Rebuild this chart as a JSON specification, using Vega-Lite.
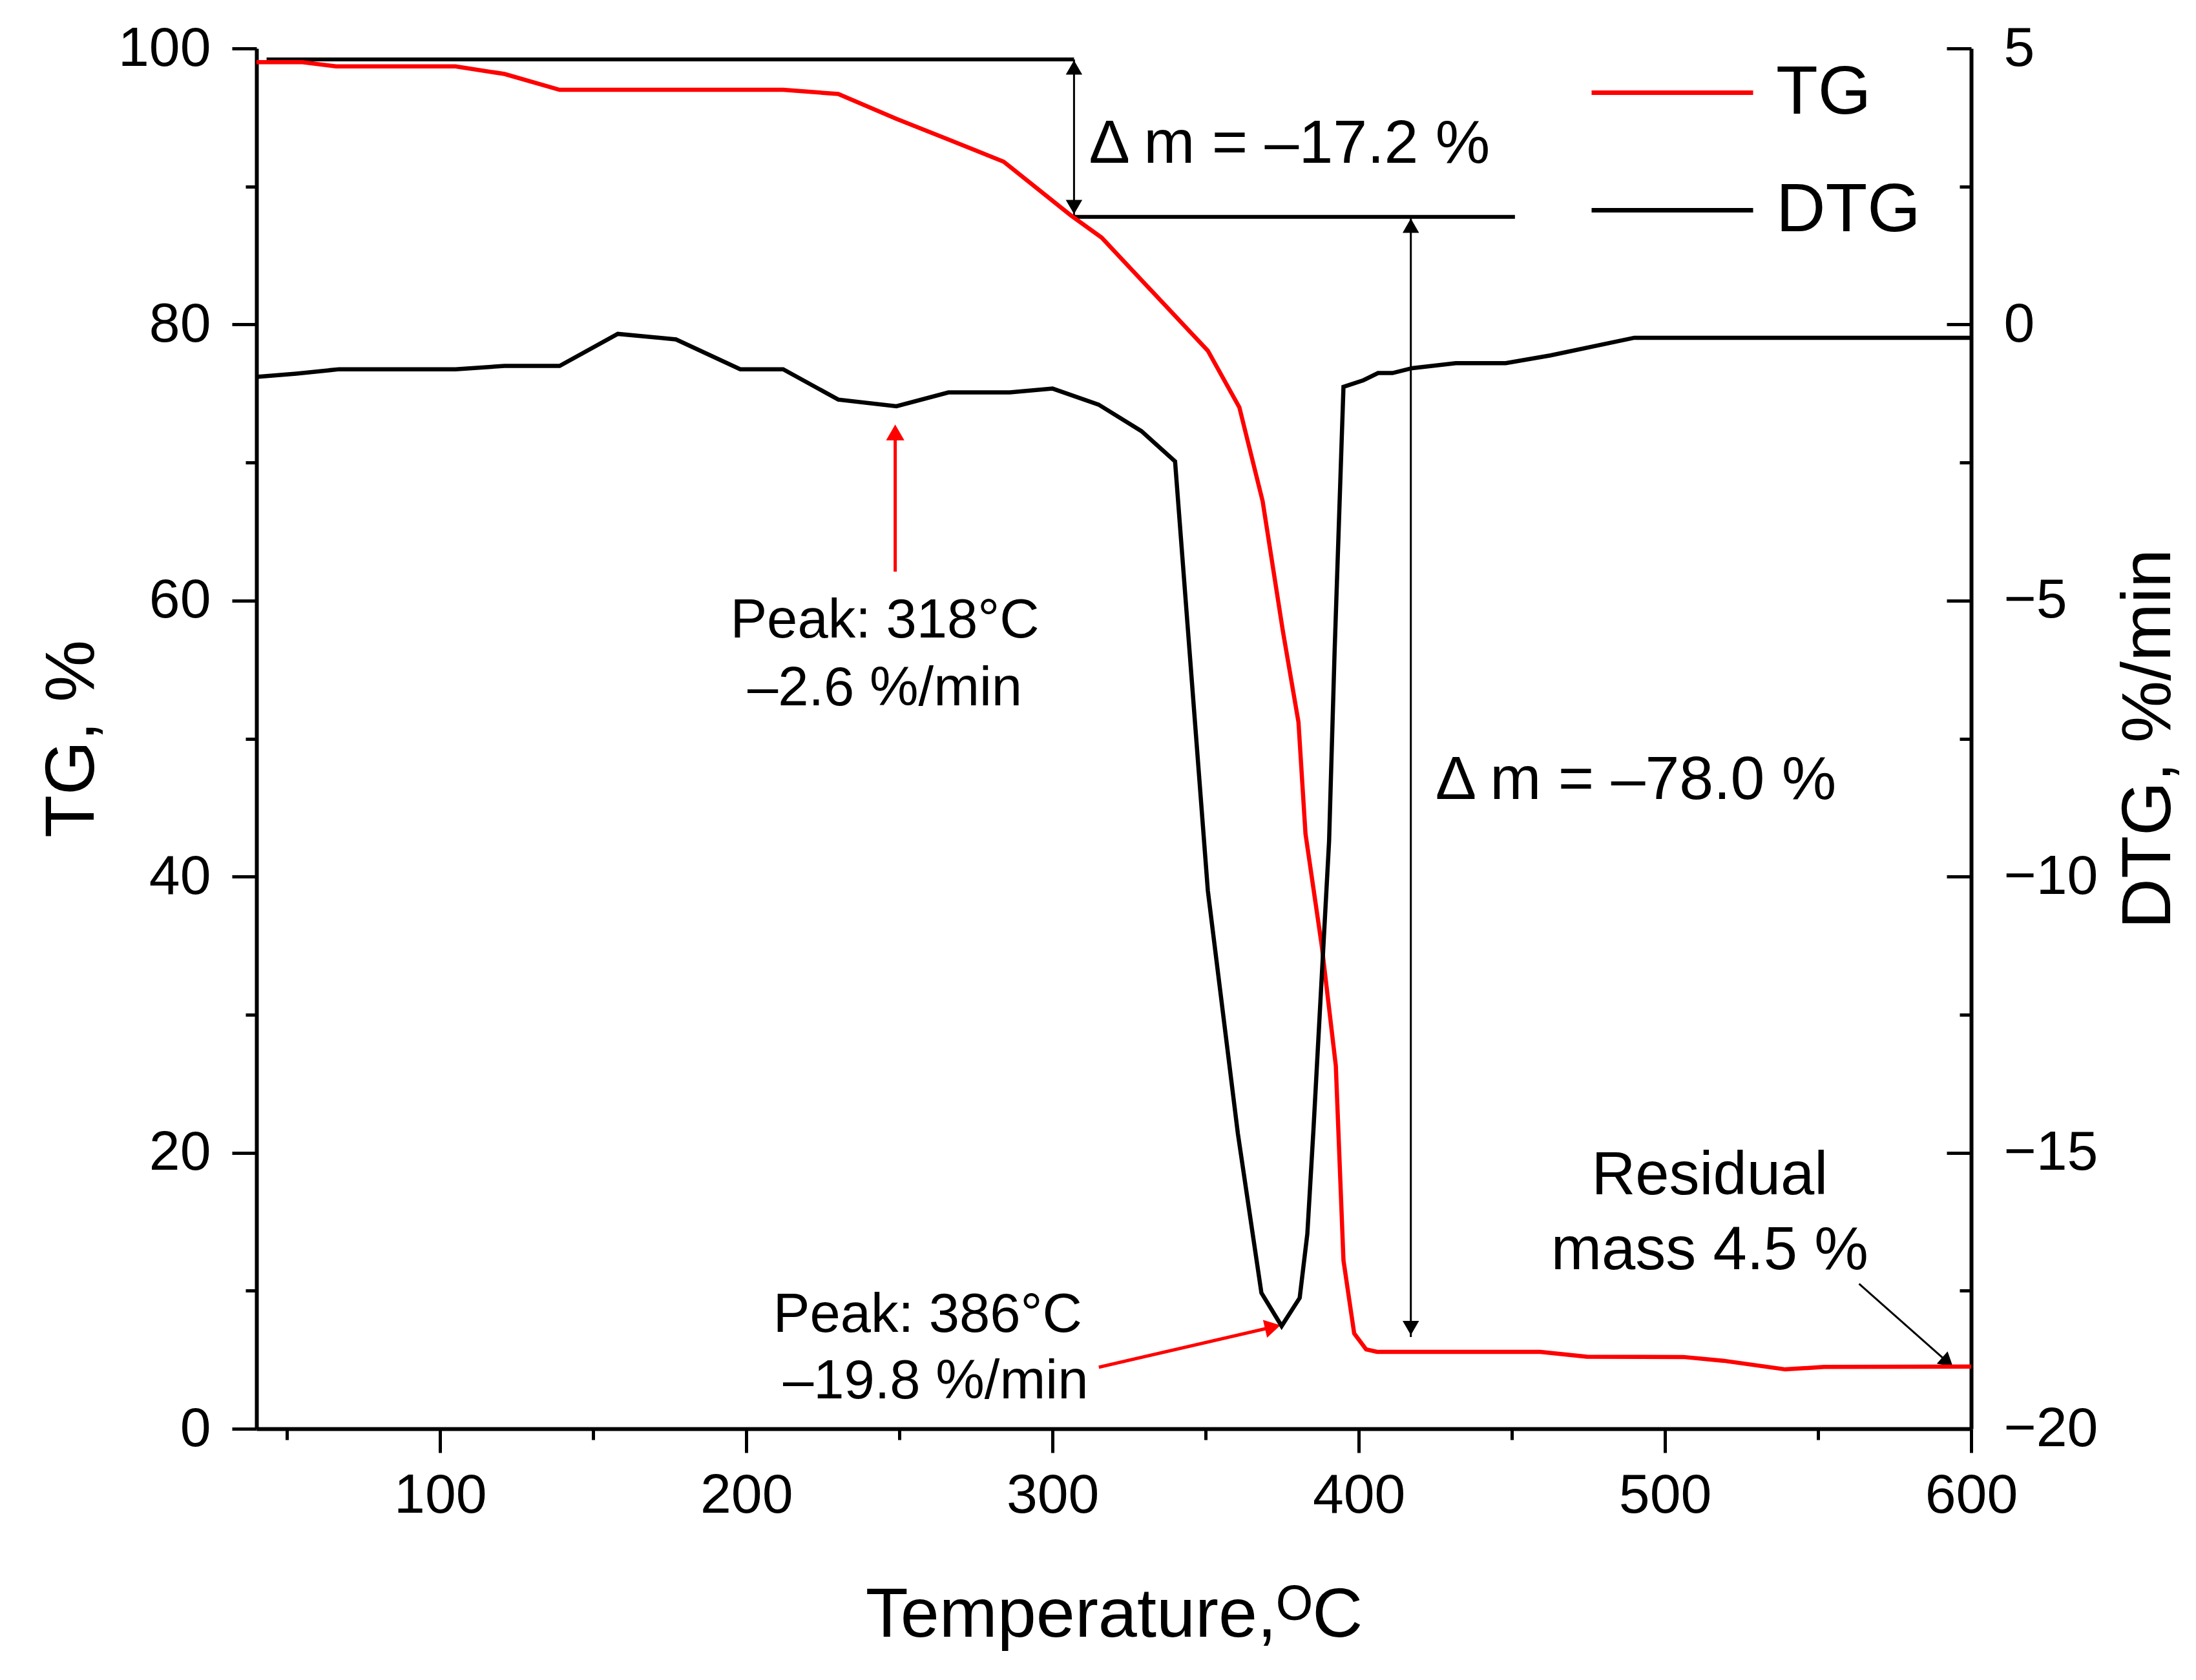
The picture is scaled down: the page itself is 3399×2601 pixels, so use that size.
{
  "$schema": "https://vega.github.io/schema/vega-lite/v6.json",
  "width": 2654,
  "height": 2137,
  "autosize": {"type": "none"},
  "padding": {"left": 397, "top": 75, "right": 348, "bottom": 389},
  "config": {
    "font": "Liberation Sans",
    "view": {"stroke": null},
    "axis": {
      "grid": false,
      "domainColor": "black",
      "domainWidth": 6,
      "tickColor": "black",
      "tickWidth": 5,
      "labelColor": "black",
      "labelFont": "Liberation Sans",
      "labelFontSize": 86,
      "titleFont": "Liberation Sans",
      "titleFontSize": 108,
      "titleFontWeight": "normal",
      "titleColor": "black",
      "labelOverlap": false,
      "labelFlush": false
    }
  },
  "datasets": {
    "tg": [
      {"T": 40, "v": 99.0, "series": "TG"},
      {"T": 55, "v": 99.0, "series": "TG"},
      {"T": 66, "v": 98.7, "series": "TG"},
      {"T": 105, "v": 98.7, "series": "TG"},
      {"T": 121, "v": 98.15, "series": "TG"},
      {"T": 139, "v": 97.0, "series": "TG"},
      {"T": 212, "v": 97.0, "series": "TG"},
      {"T": 230, "v": 96.7, "series": "TG"},
      {"T": 249, "v": 94.9, "series": "TG"},
      {"T": 266, "v": 93.4, "series": "TG"},
      {"T": 284, "v": 91.8, "series": "TG"},
      {"T": 306, "v": 87.9, "series": "TG"},
      {"T": 316, "v": 86.3, "series": "TG"},
      {"T": 350.7, "v": 78.1, "series": "TG"},
      {"T": 361, "v": 74.0, "series": "TG"},
      {"T": 368.6, "v": 67.2, "series": "TG"},
      {"T": 375.2, "v": 57.8, "series": "TG"},
      {"T": 380.3, "v": 51.2, "series": "TG"},
      {"T": 382.6, "v": 43.1, "series": "TG"},
      {"T": 387.9, "v": 35.0, "series": "TG"},
      {"T": 392.5, "v": 26.3, "series": "TG"},
      {"T": 395.0, "v": 12.2, "series": "TG"},
      {"T": 398.5, "v": 6.9, "series": "TG"},
      {"T": 402.4, "v": 5.75, "series": "TG"},
      {"T": 406.0, "v": 5.57, "series": "TG"},
      {"T": 459.3, "v": 5.57, "series": "TG"},
      {"T": 474.5, "v": 5.22, "series": "TG"},
      {"T": 506, "v": 5.2, "series": "TG"},
      {"T": 519, "v": 4.93, "series": "TG"},
      {"T": 539.3, "v": 4.3, "series": "TG"},
      {"T": 552, "v": 4.48, "series": "TG"},
      {"T": 600, "v": 4.5, "series": "TG"}
    ],
    "dtg": [
      {"T": 40, "v": -0.95, "series": "DTG"},
      {"T": 53, "v": -0.89, "series": "DTG"},
      {"T": 67, "v": -0.81, "series": "DTG"},
      {"T": 105, "v": -0.81, "series": "DTG"},
      {"T": 121, "v": -0.75, "series": "DTG"},
      {"T": 139, "v": -0.75, "series": "DTG"},
      {"T": 158, "v": -0.17, "series": "DTG"},
      {"T": 177, "v": -0.27, "series": "DTG"},
      {"T": 198, "v": -0.81, "series": "DTG"},
      {"T": 212, "v": -0.81, "series": "DTG"},
      {"T": 230, "v": -1.36, "series": "DTG"},
      {"T": 249, "v": -1.48, "series": "DTG"},
      {"T": 266, "v": -1.23, "series": "DTG"},
      {"T": 286, "v": -1.23, "series": "DTG"},
      {"T": 300, "v": -1.16, "series": "DTG"},
      {"T": 315, "v": -1.45, "series": "DTG"},
      {"T": 329, "v": -1.93, "series": "DTG"},
      {"T": 340, "v": -2.48, "series": "DTG"},
      {"T": 350.7, "v": -10.25, "series": "DTG"},
      {"T": 360.5, "v": -14.65, "series": "DTG"},
      {"T": 368.2, "v": -17.54, "series": "DTG"},
      {"T": 374.8, "v": -18.14, "series": "DTG"},
      {"T": 380.7, "v": -17.63, "series": "DTG"},
      {"T": 383.2, "v": -16.47, "series": "DTG"},
      {"T": 385.2, "v": -14.58, "series": "DTG"},
      {"T": 390.3, "v": -9.36, "series": "DTG"},
      {"T": 392.1, "v": -5.93, "series": "DTG"},
      {"T": 395, "v": -1.13, "series": "DTG"},
      {"T": 401.5, "v": -1.01, "series": "DTG"},
      {"T": 406.3, "v": -0.88, "series": "DTG"},
      {"T": 411, "v": -0.88, "series": "DTG"},
      {"T": 417.5, "v": -0.79, "series": "DTG"},
      {"T": 431.7, "v": -0.7, "series": "DTG"},
      {"T": 448, "v": -0.7, "series": "DTG"},
      {"T": 462.6, "v": -0.56, "series": "DTG"},
      {"T": 490, "v": -0.24, "series": "DTG"},
      {"T": 600, "v": -0.24, "series": "DTG"}
    ],
    "thickLines": [
      {"T": 43.3, "T2": 307, "v": 99.2, "v2": 99.2},
      {"T": 307, "T2": 451, "v": 87.8, "v2": 87.8}
    ],
    "thinLines": [
      {"T": 307, "T2": 307, "v": 99.2, "v2": 87.8},
      {"T": 417, "T2": 417, "v": 87.8, "v2": 6.64},
      {"T": 563.4, "T2": 592.3, "v": 10.5, "v2": 4.82}
    ],
    "redLines": [
      {"T": 248.6, "T2": 248.6, "v": 62.1, "v2": 72.2},
      {"T": 315.1, "T2": 371.9, "v": 4.46, "v2": 7.37}
    ],
    "headsUp": [{"T": 307, "v": 98.62}, {"T": 417, "v": 87.16}],
    "headsDown": [{"T": 307, "v": 88.51}, {"T": 417, "v": 7.3}],
    "headRedUp": [{"T": 248.6, "v": 72.18}],
    "headRedSlant": [{"T": 371.9, "v": 7.37}],
    "headResidual": [{"T": 592.3, "v": 4.82}],
    "deltaLabels": [
      {"T": 311.9, "v": 91.7, "label": "Δ m = –17.2 %"},
      {"T": 425.0, "v": 45.64, "label": "Δ m = –78.0 %"}
    ],
    "peakLabels": [
      {"T": 245.2, "v": 57.3, "label": "Peak: 318°C"},
      {"T": 245.2, "v": 52.4, "label": "–2.6 %/min"},
      {"T": 259.2, "v": 7.03, "label": "Peak: 386°C"},
      {"T": 261.8, "v": 2.2, "label": "–19.8 %/min"}
    ],
    "residualLabels": [
      {"T": 514.6, "v": 17.0, "label": "Residual"},
      {"T": 514.6, "v": 11.56, "label": "mass 4.5 %"}
    ]
  },
  "encoding": {
    "x": {
      "field": "T",
      "type": "quantitative",
      "scale": {"domain": [40, 600], "nice": false, "zero": false},
      "axis": {
        "title": "Temperature,ᴼC",
        "values": [50, 100, 150, 200, 250, 300, 350, 400, 450, 500, 550, 600],
        "labelExpr": "datum.value % 100 === 0 ? datum.label : ''",
        "tickSize": {"condition": {"test": "datum.value % 100 === 0", "value": 37}, "value": 17},
        "labelPadding": 24,
        "titlePadding": 90
      }
    }
  },
  "layer": [
    {
      "encoding": {
        "y": {
          "field": "v",
          "type": "quantitative",
          "scale": {"domain": [0, 100], "nice": false, "zero": false},
          "axis": {
            "title": "TG, %",
            "orient": "left",
            "values": [0, 10, 20, 30, 40, 50, 60, 70, 80, 90, 100],
            "format": "d",
            "labelExpr": "datum.value % 20 === 0 ? datum.label : ''",
            "tickSize": {"condition": {"test": "datum.value % 20 === 0", "value": 38}, "value": 17},
            "labelPadding": 33,
            "titlePadding": 30
          }
        }
      },
      "layer": [
        {
          "data": {"name": "thickLines"},
          "mark": {"type": "rule", "color": "black", "strokeWidth": 6},
          "encoding": {"x2": {"field": "T2"}, "y2": {"field": "v2"}}
        },
        {
          "data": {"name": "thinLines"},
          "mark": {"type": "rule", "color": "black", "strokeWidth": 3},
          "encoding": {"x2": {"field": "T2"}, "y2": {"field": "v2"}}
        },
        {
          "data": {"name": "redLines"},
          "mark": {"type": "rule", "color": "#ff0000", "strokeWidth": 5},
          "encoding": {"x2": {"field": "T2"}, "y2": {"field": "v2"}}
        },
        {
          "data": {"name": "headsUp"},
          "mark": {"type": "point", "shape": "triangle-up", "filled": true, "color": "black", "opacity": 1, "size": 650, "strokeWidth": 0}
        },
        {
          "data": {"name": "headsDown"},
          "mark": {"type": "point", "shape": "triangle-down", "filled": true, "color": "black", "opacity": 1, "size": 650, "strokeWidth": 0}
        },
        {
          "data": {"name": "headRedUp"},
          "mark": {"type": "point", "shape": "triangle-up", "filled": true, "color": "#ff0000", "opacity": 1, "size": 800, "strokeWidth": 0}
        },
        {
          "data": {"name": "headRedSlant"},
          "mark": {"type": "point", "shape": "triangle-right", "angle": -13, "filled": true, "color": "#ff0000", "opacity": 1, "size": 800, "strokeWidth": 0}
        },
        {
          "data": {"name": "headResidual"},
          "mark": {"type": "point", "shape": "triangle-right", "angle": 41, "filled": true, "color": "black", "opacity": 1, "size": 650, "strokeWidth": 0}
        },
        {
          "data": {"name": "deltaLabels"},
          "mark": {"type": "text", "align": "left", "baseline": "alphabetic", "fontSize": 95, "color": "black", "font": "Liberation Sans"},
          "encoding": {"text": {"field": "label"}}
        },
        {
          "data": {"name": "peakLabels"},
          "mark": {"type": "text", "align": "center", "baseline": "alphabetic", "fontSize": 85, "color": "black", "font": "Liberation Sans"},
          "encoding": {"text": {"field": "label"}}
        },
        {
          "data": {"name": "residualLabels"},
          "mark": {"type": "text", "align": "center", "baseline": "alphabetic", "fontSize": 94, "color": "black", "font": "Liberation Sans"},
          "encoding": {"text": {"field": "label"}}
        },
        {
          "data": {"name": "tg"},
          "mark": {"type": "line", "strokeWidth": 6.5},
          "encoding": {
            "color": {
              "field": "series",
              "type": "nominal",
              "scale": {"domain": ["TG", "DTG"], "range": ["#ff0000", "#000000"]},
              "legend": {
                "orient": "none",
                "legendX": 2063,
                "legendY": -60,
                "title": null,
                "symbolType": "stroke",
                "symbolSize": 62500,
                "symbolStrokeWidth": 7,
                "labelFontSize": 106,
                "labelFont": "Liberation Sans",
                "labelColor": "black",
                "labelLimit": 0,
                "labelOffset": 32,
                "rowPadding": -50
              }
            }
          }
        }
      ]
    },
    {
      "data": {"name": "dtg"},
      "mark": {"type": "line", "strokeWidth": 6.5},
      "encoding": {
        "y": {
          "field": "v",
          "type": "quantitative",
          "scale": {"domain": [-20, 5], "nice": false, "zero": false},
          "axis": {
            "title": "DTG, %/min",
            "orient": "right",
            "values": [-20, -17.5, -15, -12.5, -10, -7.5, -5, -2.5, 0, 2.5, 5],
            "format": "d",
            "labelExpr": "datum.value % 5 === 0 ? datum.label : ''",
            "tickSize": {"condition": {"test": "datum.value % 5 === 0", "value": -38}, "value": -18},
            "labelPadding": 88,
            "titlePadding": 27,
            "titleAngle": 270,
            "titleBaseline": "top"
          }
        },
        "color": {"field": "series", "type": "nominal"}
      }
    }
  ],
  "resolve": {"scale": {"y": "independent"}}
}
